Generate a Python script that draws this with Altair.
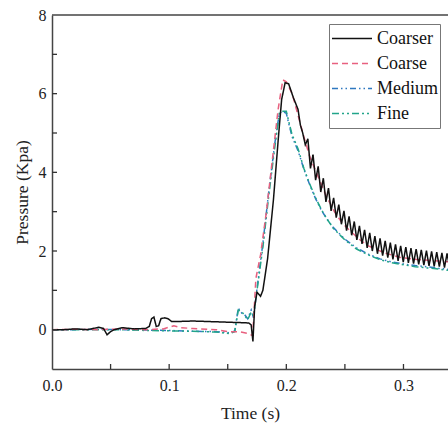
import altair as alt
import pandas as pd

series_names = ["Coarser", "Coarse", "Medium", "Fine"]
series_colors = ["#111111", "#e8607f", "#2f78c0", "#22a58a"]
series_dashes = [[1, 0], [6, 4], [6, 3, 1.5, 3, 1.5, 3], [7, 3, 2, 3, 2, 3]]

# Coarser (black, solid) with oscillations after the peak
t_coarser = [0.000, 0.010, 0.020, 0.030, 0.040, 0.044, 0.047, 0.050, 0.053, 0.060,
             0.070, 0.080, 0.083, 0.085, 0.087, 0.089, 0.091, 0.093, 0.096, 0.099,
             0.102, 0.110, 0.120, 0.130, 0.140, 0.150, 0.160, 0.168, 0.170, 0.1715,
             0.1730, 0.1750, 0.1780, 0.1800, 0.1840, 0.1890, 0.1930, 0.1960, 0.1990, 0.2020,
             0.2060, 0.2100, 0.2120,
             0.2140, 0.2162, 0.2184, 0.2206, 0.2228, 0.2250, 0.2272, 0.2294, 0.2316, 0.2338,
             0.2360, 0.2382, 0.2404, 0.2426, 0.2448, 0.2470, 0.2492, 0.2514, 0.2536, 0.2558,
             0.2580, 0.2602, 0.2624, 0.2646, 0.2668, 0.2690, 0.2712, 0.2734, 0.2756, 0.2778,
             0.2800, 0.2822, 0.2844, 0.2866, 0.2888, 0.2910, 0.2932, 0.2954, 0.2976, 0.2998,
             0.3020, 0.3042, 0.3064, 0.3086, 0.3108, 0.3130, 0.3152, 0.3174, 0.3196, 0.3218,
             0.3240, 0.3262, 0.3284, 0.3306, 0.3328, 0.3350, 0.3372, 0.3394]
p_coarser = [0.00, 0.00, 0.02, 0.00, 0.06, 0.03, -0.13, -0.05, 0.00, 0.05,
             0.02, 0.03, 0.08, 0.28, 0.32, 0.08, 0.10, 0.28, 0.30, 0.28,
             0.21, 0.21, 0.22, 0.21, 0.20, 0.19, 0.18, 0.17, 0.12, -0.30,
             0.60, 0.95, 0.85, 1.00, 1.80, 3.30, 4.80, 5.85, 6.28, 6.25,
             5.90, 5.60, 5.20,
             5.00, 4.70, 4.85, 4.10, 4.45, 3.80, 4.15, 3.50, 3.85, 3.25,
             3.60, 3.02, 3.35, 2.85, 3.18, 2.68, 3.02, 2.52, 2.88, 2.40,
             2.75, 2.28, 2.64, 2.18, 2.54, 2.08, 2.46, 2.00, 2.38, 1.93,
             2.32, 1.88, 2.26, 1.83, 2.21, 1.79, 2.17, 1.75, 2.13, 1.72,
             2.10, 1.70, 2.07, 1.68, 2.05, 1.66, 2.03, 1.64, 2.01, 1.62,
             1.99, 1.61, 1.97, 1.60, 1.95, 1.58, 1.94, 1.57]

# Coarse (red dashed)
t_coarse = [0.000, 0.020, 0.040, 0.060, 0.080, 0.095, 0.104, 0.110, 0.120, 0.140,
            0.150, 0.160, 0.168, 0.171, 0.172, 0.174, 0.178, 0.183, 0.188, 0.193,
            0.197, 0.200, 0.205, 0.210, 0.215, 0.220, 0.227, 0.234, 0.241, 0.248,
            0.256, 0.263, 0.270, 0.284, 0.298, 0.313, 0.327, 0.340]
p_coarse = [0.00, 0.01, 0.00, 0.02, 0.00, 0.02, 0.10, 0.05, 0.03, 0.00,
            -0.05, -0.05, -0.10, -0.15, 0.20, 1.30, 1.90, 3.00, 4.30, 5.60,
            6.35, 6.30, 6.00, 5.45, 4.90, 4.40, 3.90, 3.40, 3.00, 2.70,
            2.47, 2.28, 2.13, 1.95, 1.83, 1.78, 1.75, 1.72]

# Medium (blue dash-dot-dot)
t_medium = [0.000, 0.020, 0.040, 0.060, 0.080, 0.100, 0.120, 0.140, 0.152, 0.156,
            0.159, 0.162, 0.164, 0.167, 0.170, 0.172, 0.175, 0.180, 0.185, 0.190,
            0.194, 0.197, 0.200, 0.202, 0.205, 0.210, 0.215, 0.220, 0.225, 0.230,
            0.235, 0.240, 0.250, 0.260, 0.270, 0.280, 0.290, 0.300, 0.310, 0.320,
            0.330, 0.340]
p_medium = [0.00, 0.00, 0.01, 0.00, -0.01, -0.02, -0.04, -0.05, -0.08, -0.03,
            0.55, 0.42, 0.40, 0.28, 0.50, 0.30, 1.05, 2.20, 3.50, 4.70,
            5.50, 5.55, 5.50, 5.25, 4.90, 4.55, 4.08, 3.68, 3.33, 3.03,
            2.80, 2.60, 2.30, 2.08, 1.92, 1.80, 1.72, 1.67, 1.63, 1.60,
            1.56, 1.53]

# Fine (teal dash-dot-dot)
t_fine = [0.000, 0.020, 0.040, 0.060, 0.080, 0.100, 0.120, 0.140, 0.152, 0.156,
          0.159, 0.162, 0.164, 0.167, 0.170, 0.172, 0.175, 0.180, 0.185, 0.190,
          0.194, 0.197, 0.200, 0.202, 0.205, 0.210, 0.215, 0.220, 0.225, 0.230,
          0.235, 0.240, 0.250, 0.260, 0.270, 0.280, 0.290, 0.300, 0.310, 0.320,
          0.330, 0.340]
p_fine = [0.00, 0.00, 0.00, 0.00, -0.02, -0.03, -0.04, -0.06, -0.10, -0.05,
          0.50, 0.45, 0.38, 0.25, 0.45, 0.35, 1.00, 2.10, 3.40, 4.60,
          5.50, 5.55, 5.55, 5.30, 4.95, 4.60, 4.10, 3.70, 3.35, 3.05,
          2.80, 2.58, 2.28, 2.05, 1.90, 1.78, 1.70, 1.65, 1.60, 1.57,
          1.54, 1.50]

x_tick_values = [0.05, 0.1, 0.15, 0.2, 0.25, 0.3]
y_tick_values = [0, 1, 2, 3, 4, 5, 6, 7]
x_label_values = [0.0, 0.1, 0.2, 0.3]
y_label_values = [0, 2, 4, 6, 8]

rows = []
for name, ts, ps in [("Coarser", t_coarser, p_coarser), ("Coarse", t_coarse, p_coarse),
                     ("Medium", t_medium, p_medium), ("Fine", t_fine, p_fine)]:
    for i, (t, p) in enumerate(zip(ts, ps)):
        rows.append({"series": name, "t": t, "p": p, "ord": i})
df = pd.DataFrame(rows)

W, H = 396, 354
FONT = "Liberation Serif"
xs = alt.Scale(domain=[0, 0.338], nice=False, zero=False)
ys = alt.Scale(domain=[-1, 8], nice=False, zero=False)

color_enc = alt.Color(
    "series:N",
    scale=alt.Scale(domain=series_names, range=series_colors),
    legend=alt.Legend(
        title=None, orient="none", legendX=277, legendY=9,
        symbolType="stroke", symbolSize=1600, symbolStrokeWidth=1.5,
        labelFont=FONT, labelFontSize=18, labelColor="#111111",
        strokeColor="#777777", fillColor="white", padding=2,
        clipHeight=25, rowPadding=0, labelOffset=4, labelLimit=200,
    ),
)
dash_enc = alt.StrokeDash(
    "series:N",
    scale=alt.Scale(domain=series_names, range=series_dashes),
    legend=None,
)

x_enc = alt.X("t:Q", scale=xs, axis=alt.Axis(values=x_label_values, format=".1f", title="Time (s)",
                                             ticks=False, labelFlush=False, labelPadding=8, titlePadding=11))
y_enc = alt.Y("p:Q", scale=ys, axis=alt.Axis(values=y_label_values, title="Pressure (Kpa)",
                                             ticks=False, labelFlush=False, labelPadding=6, titlePadding=7))

base = alt.Chart(df)
layers = []
for name in ["Medium", "Fine", "Coarse", "Coarser"]:
    layers.append(
        base.transform_filter(alt.datum.series == name)
        .mark_line(clip=True, strokeWidth=1.5)
        .encode(x=x_enc, y=y_enc, color=color_enc, strokeDash=dash_enc, order="ord:Q")
    )

xticks = alt.Chart(pd.DataFrame({"t": x_tick_values})).mark_rule(color="#333333", strokeWidth=1.3).encode(
    x=alt.X("t:Q", scale=xs), y=alt.value(H), y2=alt.value(H - 5))
yticks = alt.Chart(pd.DataFrame({"p": y_tick_values})).mark_rule(color="#333333", strokeWidth=1.3).encode(
    y=alt.Y("p:Q", scale=ys), x=alt.value(0), x2=alt.value(5))
top_border = alt.Chart(pd.DataFrame({"a": [0]})).mark_rule(color="#444444", strokeWidth=1.5).encode(
    x=alt.value(0), x2=alt.value(W), y=alt.value(0))

chart = alt.layer(*layers, xticks, yticks, top_border).properties(
    width=W, height=H,
    autosize=alt.AutoSizeParams(type="none"),
    padding={"left": 52, "top": 15, "right": 0, "bottom": 59},
).configure_view(stroke=None).configure_axis(
    grid=False, domainColor="#444444", domainWidth=1.5,
    labelFont=FONT, labelFontSize=16, labelColor="#222222",
    titleFont=FONT, titleFontSize=17.5, titleFontWeight="normal", titleColor="#222222",
)

chart.save("out.html", embed_options={"renderer": "svg", "actions": False})
